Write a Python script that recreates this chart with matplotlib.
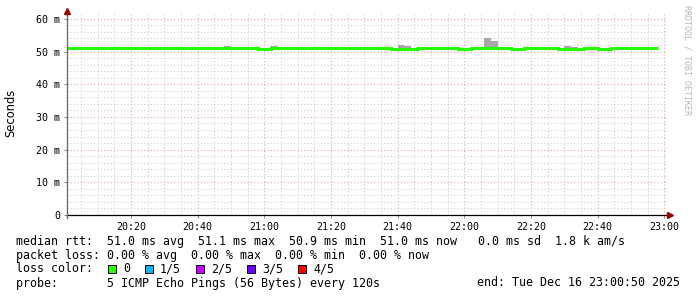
import numpy as np
import matplotlib
matplotlib.use("Agg")
import matplotlib.pyplot as plt
from matplotlib.patches import Rectangle

# --- data (minutes after 20:00, 2 minute steps) ---
median_ms = [51.05] * 29 + [50.8, 50.8] + [51.05] * 18 + [50.8] * 4 + [51.05] * 6 \
    + [50.8, 50.8] + [51.05] * 6 + [50.8, 50.8] + [51.05] * 5 + [50.8] * 4 \
    + [51.05, 51.05] + [50.8, 50.8] + [51.05] * 7
smoke_start_min = [46, 48, 62, 100, 102, 126, 128, 150, 152]
smoke_top_ms = [51.4, 51.7, 51.6, 52.0, 51.7, 54.1, 53.3, 51.7, 51.4]
step_min = 2

x_tick_labels = ["20:20", "20:40", "21:00", "21:20", "21:40", "22:00", "22:20", "22:40", "23:00"]
y_tick_labels = ["0", "10 m", "20 m", "30 m", "40 m", "50 m", "60 m"]

loss_labels = ["0", "1/5", "2/5", "3/5", "4/5"]
loss_colors = ["#26ff00", "#00b8ff", "#cc00ff", "#6a00ff", "#ff0000"]

legend_lines = [
    "median rtt:  51.0 ms avg  51.1 ms max  50.9 ms min  51.0 ms now   0.0 ms sd  1.8 k am/s",
    "packet loss: 0.00 % avg  0.00 % max  0.00 % min  0.00 % now",
    "loss color:",
    "probe:       5 ICMP Echo Pings (56 Bytes) every 120s",
]
end_text = "end: Tue Dec 16 23:00:50 2025"

W, H = 697, 297
fig = plt.figure(figsize=(W / 100, H / 100), dpi=100)

def fx(px):
    return px / W

def fy(py):
    return 1 - py / H

x0, x1, ytop, ybot = 67, 667, 13, 215
ax = fig.add_axes([fx(x0), fy(ybot), (x1 - x0) / W, (ybot - ytop) / H])

edges = np.arange(len(median_ms) + 1) * step_min
# smoke (spread of pings above median)
starts = np.array(smoke_start_min)
bottoms = np.array([median_ms[s // step_min] for s in smoke_start_min])
ax.bar(starts, np.array(smoke_top_ms) - bottoms, bottom=bottoms, width=step_min,
       align="edge", color="#a8a8a8", linewidth=0, zorder=3)
ax.stairs(median_ms, edges, color="#26ff00", linewidth=2.2, zorder=4, baseline=None)

ax.set_xlim(50 / 60, 180 + 50 / 60)
ax.set_ylim(0, 61.8)

ax.set_xticks(np.arange(20, 181, 20))
ax.set_xticklabels(x_tick_labels)
ax.set_xticks(np.arange(5, 181, 5), minor=True)
ax.set_yticks(np.arange(0, 61, 10))
ax.set_yticklabels(y_tick_labels)
ax.set_yticks(np.arange(0, 61, 2), minor=True)

ax.grid(which="minor", color="#cfcfcf", linestyle=(0, (1, 2)), linewidth=0.8, zorder=0)
ax.grid(which="major", color="#e8a8a8", linestyle=(0, (1, 2)), linewidth=0.8, zorder=1)
ax.set_axisbelow(True)

mono = "DejaVu Sans Mono"
ax.tick_params(which="both", length=2, width=0.7, color="#888888", pad=3,
               labelsize=7.2)
ax.tick_params(which="minor", length=0)
for lab in ax.get_xticklabels() + ax.get_yticklabels():
    lab.set_family(mono)

for s in ["top", "right", "left"]:
    ax.spines[s].set_visible(False)
ax.spines["bottom"].set_color("black")
ax.spines["bottom"].set_linewidth(0.9)

# left axis line with arrow, bottom arrow
ax.plot([0, 0], [-0.015, 1.01], transform=ax.transAxes, color="#666666",
        linewidth=0.9, clip_on=False, zorder=5)
ax.plot([1.0, 1.005], [0, 0], transform=ax.transAxes, color="black",
        linewidth=0.9, clip_on=False, zorder=5)
ax.plot([0], [1.01], transform=ax.transAxes, marker="^", markersize=4,
        color="#990000", clip_on=False, zorder=6)
ax.plot([1.005], [0], transform=ax.transAxes, marker=">", markersize=4,
        color="#990000", clip_on=False, zorder=6)

fig.text(fx(11), fy(113), "Seconds", rotation=90, ha="center", va="center",
         fontsize=8.3, family="DejaVu Sans")
fig.text(fx(687), fy(60), "RRDTOOL / TOBI OETIKER", rotation=270, ha="center",
         va="center", fontsize=6, family=mono, color="#b8b8b8")

line_y = [241, 255, 269, 283]
for txt, yy in zip(legend_lines, line_y):
    fig.text(fx(16), fy(yy), txt, ha="left", va="center", fontsize=8.4, family=mono)
fig.text(fx(680), fy(283), end_text, ha="right", va="center", fontsize=8.4, family=mono)

box_x = [108, 145, 196, 247, 298]
for bx, lab, col in zip(box_x, loss_labels, loss_colors):
    fig.add_artist(Rectangle((fx(bx), fy(273)), 8 / W, 8 / H, transform=fig.transFigure,
                             facecolor=col, edgecolor="black", linewidth=0.7))
    fig.text(fx(bx + 15), fy(269), lab, ha="left", va="center", fontsize=8.4, family=mono)

fig.savefig("out.png", dpi=100)
